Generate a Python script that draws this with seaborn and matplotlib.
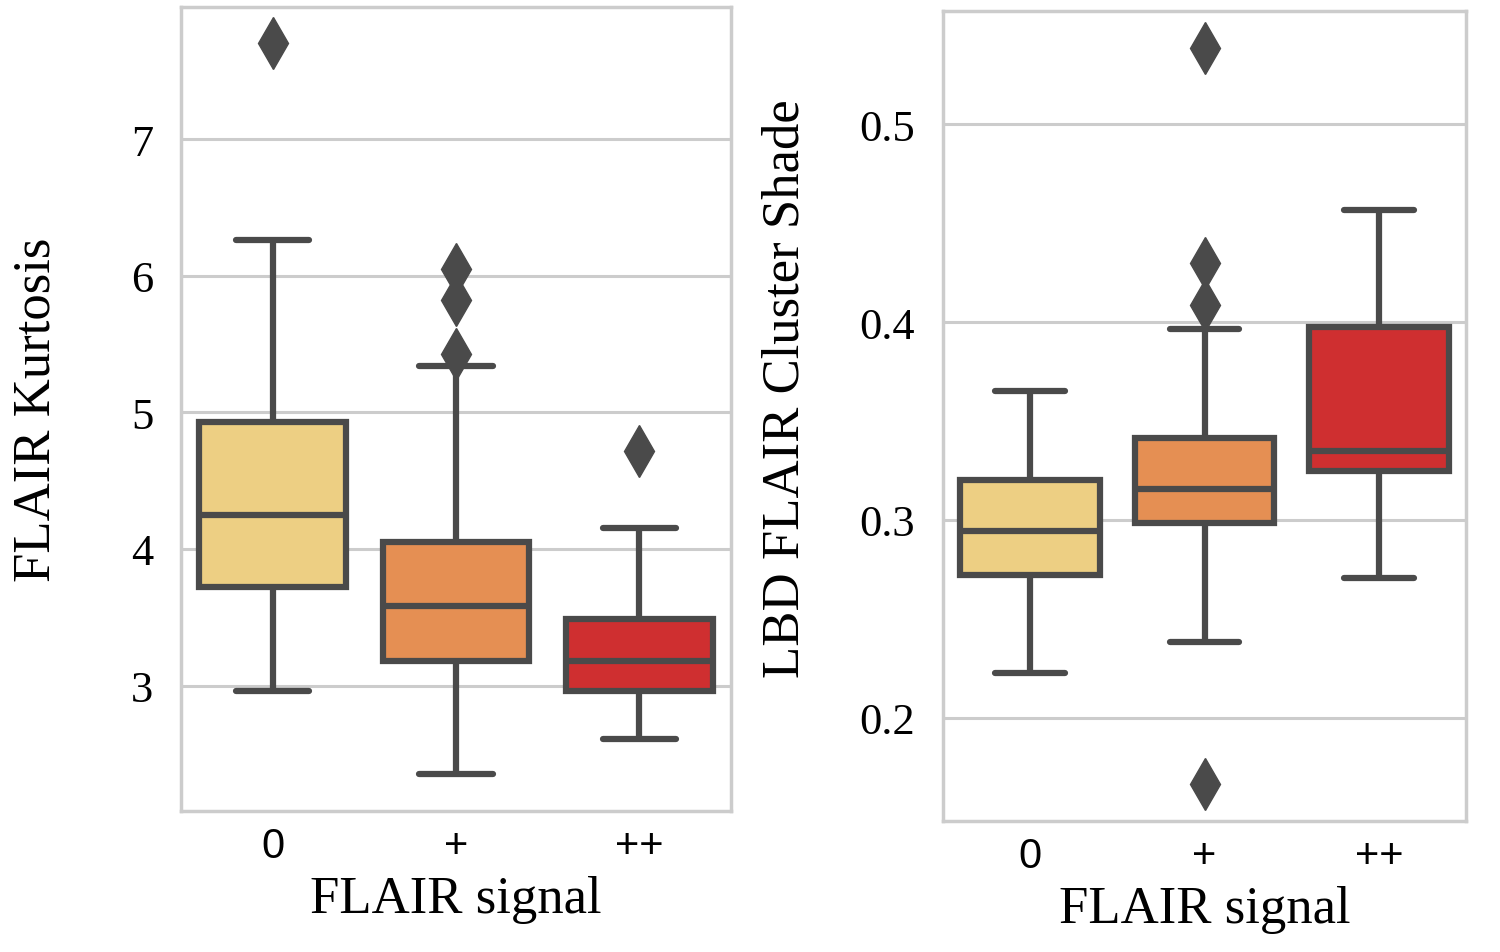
import matplotlib
import matplotlib.pyplot as plt
import matplotlib.ticker as mticker
import pandas as pd
import seaborn as sns

matplotlib.use("agg")

signal_levels = ["0", "+", "++"]
box_colors = ["#EDCF83", "#E58F53", "#CF2F30"]

# FLAIR kurtosis, one list of observations per signal level
kurtosis_0 = [2.96, 3.40, 3.72, 4.00, 4.25, 4.60, 4.93, 6.26, 7.70]
kurtosis_plus = [2.35, 2.80, 2.95, 3.10, 3.18, 3.25, 3.40, 3.50, 3.58,
                 3.70, 3.85, 3.95, 4.05, 5.34, 5.43, 5.82, 6.05]
kurtosis_2plus = [2.61, 2.80, 2.96, 3.08, 3.18, 3.30, 3.49, 4.155, 4.72]

# LBD FLAIR cluster shade
shade_0 = [0.2226, 0.250, 0.2723, 0.285, 0.2945, 0.305, 0.320, 0.340, 0.3653]
shade_plus = [0.1663, 0.2382, 0.265, 0.285, 0.2985, 0.303, 0.308, 0.312, 0.3156,
              0.322, 0.330, 0.336, 0.3415, 0.3965, 0.4085, 0.430, 0.5388]
shade_2plus = [0.2708, 0.300, 0.3247, 0.330, 0.3347, 0.360, 0.3975, 0.420, 0.4567]


def _long(groups, value_name):
    rows = []
    for level, values in zip(signal_levels, groups):
        rows += [(level, v) for v in values]
    return pd.DataFrame(rows, columns=["FLAIR signal", value_name])


kurt_df = _long([kurtosis_0, kurtosis_plus, kurtosis_2plus], "FLAIR Kurtosis")
shade_df = _long([shade_0, shade_plus, shade_2plus], "LBD FLAIR Cluster Shade")

sns.set_theme(style="whitegrid")
plt.rcParams["axes.edgecolor"] = "#cccccc"
plt.rcParams["grid.color"] = "#cccccc"

fig = plt.figure(figsize=(15, 9.53), dpi=100)
ax_left = fig.add_axes([0.1207, 0.148, 0.3667, 0.8437])
ax_right = fig.add_axes([0.6287, 0.1375, 0.3487, 0.85])

line_color = "#4a4a4a"
flier = dict(marker="d", markerfacecolor=line_color, markeredgecolor=line_color,
             markersize=26)

for ax, df, ycol, step in [
    (ax_left, kurt_df, "FLAIR Kurtosis", 1),
    (ax_right, shade_df, "LBD FLAIR Cluster Shade", 0.1),
]:
    sns.boxplot(
        data=df, x="FLAIR signal", y=ycol, hue="FLAIR signal",
        order=signal_levels, hue_order=signal_levels, palette=box_colors,
        saturation=1, linecolor=line_color, linewidth=4.5, width=0.8,
        flierprops=flier, legend=False, ax=ax,
    )
    ax.yaxis.set_major_locator(mticker.MultipleLocator(step))
    ax.grid(axis="y", linewidth=2.2, color="#cccccc")
    ax.grid(axis="x", visible=False)
    for spine in ax.spines.values():
        spine.set_linewidth(2.5)
        spine.set_color("#cccccc")
    ax.tick_params(axis="y", labelsize=32, pad=20, labelcolor="black",
                   labelfontfamily="Liberation Serif", length=0)
    ax.tick_params(axis="x", labelsize=30, pad=11, labelcolor="black",
                   labelfontfamily="Liberation Sans", length=0)
    ax.set_xlabel("FLAIR signal", fontsize=38, family="Liberation Serif",
                  color="black", labelpad=6)
    ax.set_ylabel(ycol, fontsize=38, family="Liberation Serif", color="black")

ax_right.yaxis.set_major_formatter(mticker.FormatStrFormatter("%.1f"))
ax_left.yaxis.set_label_coords(-0.22, 0.5)
ax_right.yaxis.set_label_coords(-0.255, 0.535)

fig.savefig("out.png", dpi=100)
